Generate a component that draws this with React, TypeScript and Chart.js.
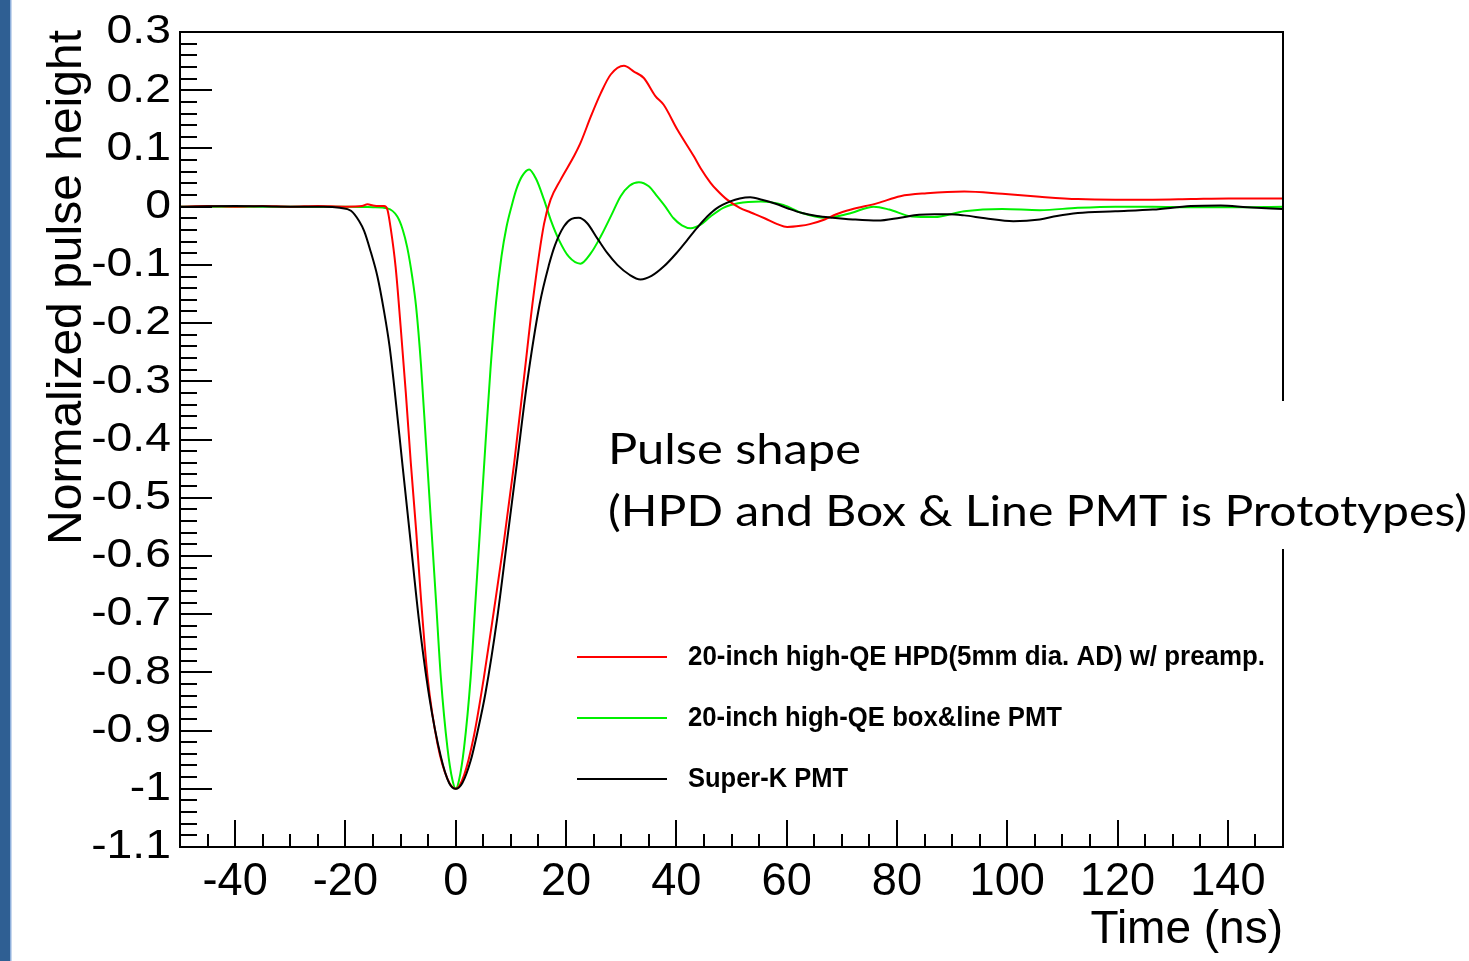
import React, { useEffect, useRef } from 'react';
import { Chart, registerables } from 'chart.js';

Chart.register(...registerables);

// ---------------- data ----------------
// 20-inch high-QE HPD (red)
const hpdTime = [-50, -45, -40, -35, -30, -25, -20, -17, -16, -15, -14, -13, -12.4, -11.8, -10.9, -10, -9.06, -8.15, -7.2, -6.3, -5.1, -3.3, -1.5, 0, 1.5, 3.3, 5.1, 6.9, 8.75, 10.6, 12.4, 14.0, 16, 17.2, 19, 21.4, 22.6, 24.5, 26.3, 28.1, 30.5, 32.3, 34.1, 36.2, 37.7, 40.2, 43.2, 44.4, 46.2, 47.3, 49.2, 51.5, 53.5, 56, 58.3, 60.1, 62.5, 64.2, 66.9, 69, 71.7, 76.5, 80.6, 85.4, 92.2, 99.1, 105.9, 112.8, 119.6, 126.4, 133.3, 140.1, 150];
const hpdValue = [0, 0.001, 0, 0.001, 0, 0.001, 0, 0.001, 0.004, 0.002, 0.001, 0.001, -0.005, -0.037, -0.104, -0.205, -0.319, -0.44, -0.554, -0.674, -0.809, -0.923, -0.983, -1, -0.977, -0.909, -0.809, -0.695, -0.574, -0.44, -0.292, -0.16, -0.03, 0.012, 0.046, 0.086, 0.109, 0.155, 0.195, 0.227, 0.242, 0.232, 0.221, 0.19, 0.175, 0.132, 0.086, 0.066, 0.041, 0.029, 0.012, -0.002, -0.01, -0.02, -0.03, -0.035, -0.033, -0.03, -0.022, -0.013, -0.005, 0.006, 0.018, 0.023, 0.026, 0.022, 0.017, 0.013, 0.012, 0.012, 0.013, 0.014, 0.014];

// 20-inch high-QE box&line PMT (green)
const boxTime = [-50, -40, -30, -20, -15, -12.4, -10.6, -9.6, -8.8, -7.9, -7.2, -6.3, -5.4, -4.5, -3.6, -2.7, -1.5, -0.6, 0, 0.6, 1.5, 2.7, 3.6, 4.5, 5.4, 6.3, 7.3, 8.3, 9.2, 10.1, 11, 12, 13.3, 14.6, 16, 17.3, 18.7, 20.5, 22.6, 24.5, 26.3, 28.2, 29.9, 31.5, 33.2, 35, 36.5, 38, 39.5, 41, 42.6, 44.4, 46.2, 48.5, 51.2, 55.3, 59.4, 62.8, 66.9, 69.5, 71.7, 75.8, 78.6, 82.7, 86.8, 92.2, 99.1, 105.9, 112.8, 119.6, 126.4, 133.3, 140.1, 150];
const boxValue = [0, 0, 0, 0, -0.001, -0.003, -0.017, -0.04, -0.07, -0.12, -0.171, -0.272, -0.406, -0.54, -0.674, -0.809, -0.93, -0.985, -1, -0.985, -0.93, -0.809, -0.674, -0.54, -0.406, -0.279, -0.165, -0.085, -0.035, 0.0, 0.03, 0.052, 0.064, 0.047, 0.012, -0.025, -0.057, -0.086, -0.098, -0.08, -0.051, -0.015, 0.018, 0.036, 0.042, 0.035, 0.018, 0.0, -0.02, -0.032, -0.037, -0.031, -0.017, -0.002, 0.006, 0.009, 0.003, -0.011, -0.019, -0.016, -0.011, 0.0, -0.005, -0.017, -0.018, -0.008, -0.004, -0.006, -0.002, 0.0, 0.0, -0.001, -0.001, 0.0];

// Super-K PMT (black)
const skTime = [-50, -40, -30, -24, -21, -19, -17.5, -16.6, -15.4, -14.2, -13, -12, -11.2, -9.7, -8.2, -6.7, -4.8, -2.7, -1.2, 0, 1.2, 2.7, 4, 5.4, 7.5, 9.3, 11.1, 12.9, 15.2, 16.9, 18, 19.6, 21, 22.3, 23.8, 25.7, 27.5, 29.3, 31.5, 33.5, 35.5, 37.7, 40, 42, 43.8, 45.6, 47.3, 49.8, 51.5, 53.4, 55.5, 58, 60.5, 62.8, 65.5, 68.3, 72, 76.5, 80.6, 84, 86.8, 89.5, 92.2, 96, 101.1, 105.9, 109, 112.8, 119.6, 126.4, 133.3, 138.7, 143.5, 150];
const skValue = [0, 0.001, 0, 0, -0.002, -0.007, -0.025, -0.042, -0.078, -0.12, -0.18, -0.24, -0.305, -0.44, -0.574, -0.708, -0.842, -0.945, -0.99, -1, -0.99, -0.952, -0.9, -0.835, -0.708, -0.574, -0.44, -0.305, -0.168, -0.1, -0.066, -0.034, -0.021, -0.019, -0.028, -0.055, -0.08, -0.1, -0.117, -0.125, -0.119, -0.103, -0.08, -0.057, -0.036, -0.017, -0.003, 0.009, 0.014, 0.016, 0.012, 0.005, -0.004, -0.011, -0.016, -0.019, -0.022, -0.024, -0.019, -0.014, -0.013, -0.013, -0.015, -0.02, -0.025, -0.022, -0.016, -0.011, -0.008, -0.005, 0.001, 0.002, -0.001, -0.004];

const seriesLabels = [
  '20-inch high-QE HPD(5mm dia. AD) w/ preamp.',
  '20-inch high-QE box&line PMT',
  'Super-K PMT',
];
const seriesColors = ['#ff0000', '#00f000', '#000000'];

const xMin = -50;
const xMax = 150;
const yMin = -1.1;
const yMax = 0.3;
const xTickValues = [-40, -20, 0, 20, 40, 60, 80, 100, 120, 140];
const xTickLabels = ['-40', '-20', '0', '20', '40', '60', '80', '100', '120', '140'];
const yTickValues = [0.3, 0.2, 0.1, 0, -0.1, -0.2, -0.3, -0.4, -0.5, -0.6, -0.7, -0.8, -0.9, -1, -1.1];
const yTickLabels = ['0.3', '0.2', '0.1', '0', '-0.1', '-0.2', '-0.3', '-0.4', '-0.5', '-0.6', '-0.7', '-0.8', '-0.9', '-1', '-1.1'];
const xTitle = 'Time (ns)';
const yTitle = 'Normalized pulse height';
const noteLines = ['Pulse shape', '(HPD and Box & Line PMT is Prototypes)'];

// ---------------- drawing helpers ----------------
const W = 1469;
const H = 961;

function drawText(
  ctx: CanvasRenderingContext2D,
  text: string,
  x: number,
  y: number,
  font: string,
  align: CanvasTextAlign,
  baseline: CanvasTextBaseline,
  sx: number,
  fitWidth?: number
) {
  ctx.save();
  ctx.font = font;
  ctx.textAlign = align;
  ctx.textBaseline = baseline;
  let s = sx;
  if (fitWidth) {
    const w = ctx.measureText(text).width;
    if (w > 0) s = fitWidth / w;
  }
  ctx.translate(x, y);
  ctx.scale(s, 1);
  ctx.fillStyle = '#000';
  ctx.fillText(text, 0, 0);
  ctx.restore();
}

const rootStylePlugin = {
  id: 'rootStyle',
  beforeDraw(chart: any) {
    const ctx = chart.ctx as CanvasRenderingContext2D;
    ctx.save();
    ctx.fillStyle = '#ffffff';
    ctx.fillRect(0, 0, chart.width, chart.height);
    ctx.fillStyle = '#2f5f93';
    ctx.fillRect(0, 0, 10, chart.height);
    ctx.fillStyle = '#8fb0dc';
    ctx.fillRect(10, 0, 1.5, chart.height);
    ctx.restore();
  },
  afterDatasetsDraw(chart: any) {
    const ctx = chart.ctx as CanvasRenderingContext2D;
    const xs = chart.scales.x;
    const ys = chart.scales.y;
    const { left, right, top, bottom } = chart.chartArea;
    ctx.save();
    ctx.strokeStyle = '#000';
    ctx.lineWidth = 2;
    ctx.strokeRect(left, top, right - left, bottom - top);

    // y ticks (every 0.02, major every 0.1), drawn inward
    ctx.beginPath();
    for (let k = -55; k <= 15; k++) {
      const py = Math.round(ys.getPixelForValue(k * 0.02));
      const len = k % 5 === 0 ? 32 : 17;
      ctx.moveTo(left, py);
      ctx.lineTo(left + len, py);
    }
    // x ticks (every 5, major every 20), drawn inward
    for (let k = -9; k <= 29; k++) {
      const px = Math.round(xs.getPixelForValue(k * 5));
      const len = k % 4 === 0 ? 27 : 13;
      ctx.moveTo(px, bottom);
      ctx.lineTo(px, bottom - len);
    }
    ctx.stroke();
    ctx.restore();

    // tick labels
    yTickValues.forEach((v, i) => {
      drawText(ctx, yTickLabels[i], 171, ys.getPixelForValue(v), '41px "Liberation Sans", Arial, sans-serif', 'right', 'middle', 1.13);
    });
    xTickValues.forEach((v, i) => {
      drawText(ctx, xTickLabels[i], xs.getPixelForValue(v), 895, '47px "Liberation Sans", Arial, sans-serif', 'center', 'alphabetic', 0.96);
    });

    // axis titles
    drawText(ctx, xTitle, right, 943, '46px "Liberation Sans", Arial, sans-serif', 'right', 'alphabetic', 1);
    ctx.save();
    ctx.translate(81, 30);
    ctx.rotate(-Math.PI / 2);
    drawText(ctx, yTitle, 0, 0, '48px "Liberation Sans", Arial, sans-serif', 'right', 'alphabetic', 1);
    ctx.restore();

    // legend
    const legendY = [657, 718, 779];
    const legendW = [577, 374, 160];
    seriesLabels.forEach((lab, i) => {
      ctx.save();
      ctx.strokeStyle = seriesColors[i];
      ctx.lineWidth = 2;
      ctx.beginPath();
      ctx.moveTo(577, legendY[i]);
      ctx.lineTo(667, legendY[i]);
      ctx.stroke();
      ctx.restore();
      drawText(ctx, lab, 688, legendY[i] + 1, 'bold 27px "Liberation Sans", Arial, sans-serif', 'left', 'middle', 1, legendW[i]);
    });

    // annotation box
    ctx.save();
    ctx.fillStyle = '#ffffff';
    ctx.fillRect(600, 401, W - 600, 148);
    ctx.restore();
    drawText(ctx, noteLines[0], 608, 464, '42px Lato, "Open Sans", sans-serif', 'left', 'alphabetic', 1, 253);
    drawText(ctx, noteLines[1], 608, 526, '42px Lato, "Open Sans", sans-serif', 'left', 'alphabetic', 1, 859);
  },
};

function toPoints(t: number[], v: number[]) {
  return t.map((x, i) => ({ x, y: v[i] }));
}

export default function App() {
  const canvasRef = useRef<HTMLCanvasElement | null>(null);

  useEffect(() => {
    if (!canvasRef.current) return;
    const common = {
      showLine: true,
      pointRadius: 0,
      borderWidth: 2,
      cubicInterpolationMode: 'monotone' as const,
      fill: false,
    };
    const chart = new Chart(canvasRef.current, {
      type: 'scatter',
      data: {
        datasets: [
          { ...common, label: seriesLabels[2], data: toPoints(skTime, skValue), borderColor: seriesColors[2], order: 0 },
          { ...common, label: seriesLabels[0], data: toPoints(hpdTime, hpdValue), borderColor: seriesColors[0], order: 1 },
          { ...common, label: seriesLabels[1], data: toPoints(boxTime, boxValue), borderColor: seriesColors[1], order: 2 },
        ],
      },
      options: {
        animation: false,
        responsive: false,
        maintainAspectRatio: false,
        devicePixelRatio: 1,
        layout: { padding: { left: 180, top: 32, right: W - 1283, bottom: H - 847 } },
        plugins: { legend: { display: false }, tooltip: { enabled: false }, title: { display: false } },
        scales: {
          x: { type: 'linear', min: xMin, max: xMax, display: false },
          y: { type: 'linear', min: yMin, max: yMax, display: false },
        },
      },
      plugins: [rootStylePlugin],
    });
    return () => chart.destroy();
  }, []);

  return (
    <div style={{ position: 'fixed', left: 0, top: 0, width: W, height: H, background: '#fff' }}>
      <canvas ref={canvasRef} width={W} height={H} style={{ display: 'block', width: W, height: H }} />
    </div>
  );
}
